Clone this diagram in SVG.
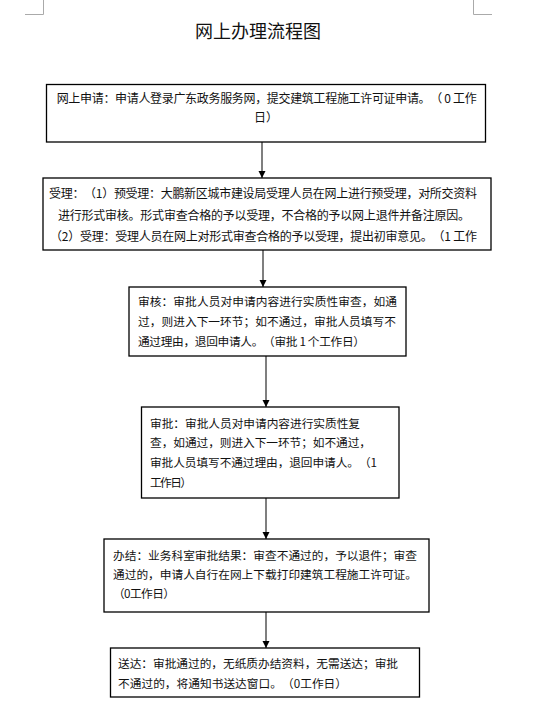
<svg xmlns="http://www.w3.org/2000/svg" width="539" height="717" viewBox="0 0 539 717">
<style>
.box{fill:#fff;stroke:#000;stroke-width:1.3}
.t{font-family:"Noto Sans CJK SC","Noto Sans",sans-serif;font-size:12px;fill:#111;text-spacing-trim:space-all}
.s{font-size:11.7px}
.title{font-family:"Noto Sans CJK SC","Noto Sans",sans-serif;font-size:18px;fill:#111}
.mark{stroke:#aaa;stroke-width:1;fill:none}
.conn{stroke:#555;stroke-width:1.5;fill:none}
</style>
<defs>
<marker id="ah" markerWidth="8" markerHeight="8" refX="7" refY="4" orient="auto" markerUnits="userSpaceOnUse">
<path d="M0,0.5 L7,4 L0,7.5 z" fill="#000"/>
</marker>
</defs>
<rect width="539" height="717" fill="#fff"/>
<path class="mark" d="M43.5,0 V14.5 H25"/>
<path class="mark" d="M473.5,0 V14.5 H492"/>
<text class="title" x="258" y="38" text-anchor="middle">网上办理流程图</text>
<g id="connectors">
<line class="conn" x1="262" y1="142" x2="262" y2="178" marker-end="url(#ah)"/>
<line class="conn" x1="263" y1="250" x2="263" y2="287" marker-end="url(#ah)"/>
<line class="conn" x1="266" y1="356" x2="266" y2="407" marker-end="url(#ah)"/>
<line class="conn" x1="266" y1="498" x2="266" y2="539" marker-end="url(#ah)"/>
<line class="conn" x1="266" y1="612" x2="266" y2="648" marker-end="url(#ah)"/>
</g>
<g id="n1">
<rect class="box" x="46.5" y="84.5" width="439" height="57.5"/>
<text class="t" x="56.7" y="103" textLength="420" lengthAdjust="spacing">网上申请：申请人登录广东政务服务网，提交建筑工程施工许可证申请。（ 0 工作</text>
<text class="t" x="266" y="122" text-anchor="middle">日）</text>
</g>
<g id="n2">
<rect class="box" x="43" y="178" width="448" height="72"/>
<text class="t" x="49" y="198" textLength="428" lengthAdjust="spacing">受理：（1）预受理：大鹏新区城市建设局受理人员在网上进行预受理，对所交资料</text>
<text class="t" x="58" y="220" textLength="412" lengthAdjust="spacing">进行形式审核。形式审查合格的予以受理，不合格的予以网上退件并备注原因。</text>
<text class="t" x="50" y="241" textLength="427" lengthAdjust="spacing">（2）受理：受理人员在网上对形式审查合格的予以受理，提出初审意见。（1 工作</text>
</g>
<g id="n3">
<rect class="box" x="129" y="287" width="277" height="69"/>
<text class="t s" x="138" y="306" textLength="259" lengthAdjust="spacing">审核：审批人员对申请内容进行实质性审查，如通</text>
<text class="t s" x="138" y="326" textLength="258" lengthAdjust="spacing">过，则进入下一环节；如不通过，审批人员填写不</text>
<text class="t s" x="138" y="346" textLength="227" lengthAdjust="spacing">通过理由，退回申请人。（审批 1 个工作日）</text>
</g>
<g id="n4">
<rect class="box" x="141.5" y="407" width="257.5" height="91"/>
<text class="t s" x="150" y="428" textLength="210" lengthAdjust="spacing">审批：审批人员对申请内容进行实质性复</text>
<text class="t s" x="150" y="447" textLength="221" lengthAdjust="spacing">查，如通过，则进入下一环节；如不通过，</text>
<text class="t s" x="150" y="467" textLength="227" lengthAdjust="spacing">审批人员填写不通过理由，退回申请人。（1</text>
<text class="t s" x="150" y="487" textLength="42" lengthAdjust="spacing">工作日）</text>
</g>
<g id="n5">
<rect class="box" x="104" y="539" width="325" height="73"/>
<text class="t s" x="113" y="560" textLength="304" lengthAdjust="spacing">办结：业务科室审批结果：审查不通过的，予以退件；审查</text>
<text class="t s" x="113" y="579" textLength="304" lengthAdjust="spacing">通过的，申请人自行在网上下载打印建筑工程施工许可证。</text>
<text class="t s" x="113" y="598" textLength="62" lengthAdjust="spacing">（0工作日）</text>
</g>
<g id="n6">
<rect class="box" x="110.5" y="648" width="309" height="49"/>
<text class="t s" x="118" y="668" textLength="280" lengthAdjust="spacing">送达：审批通过的，无纸质办结资料，无需送达；审批</text>
<text class="t s" x="118" y="688" textLength="229" lengthAdjust="spacing">不通过的，将通知书送达窗口。（0工作日）</text>
</g>
</svg>
